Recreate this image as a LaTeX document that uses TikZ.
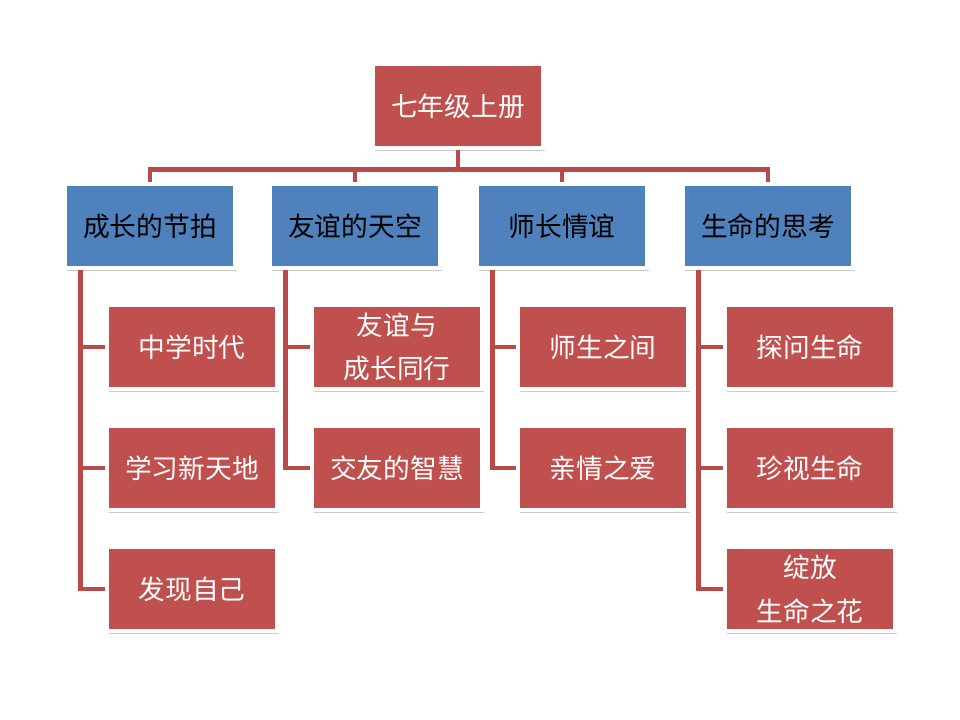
\documentclass[tikz,border=0pt]{standalone}
\usepackage{fontspec}
\newfontfamily\cjk{Noto Sans CJK SC}
\usepackage{xcolor}
\usepackage{tikz}
\usetikzlibrary{shadows}
\definecolor{rougebrique}{RGB}{192, 80, 77}
\definecolor{bleuacier}{RGB}{79, 129, 189}
\definecolor{rougelien}{RGB}{184, 74, 71}

\begin{document}
\begin{tikzpicture}[x=0.025cm, y=-0.025cm, font=\cjk\fontsize{19}{31}\selectfont,
    boite/.style={draw=white, line width=2.5pt, minimum width=4.25cm, minimum height=2.1cm,
      align=center, drop shadow={opacity=0.4, shadow xshift=1.5pt, shadow yshift=-2pt}},
    rouge/.style={boite, fill=rougebrique, text=white},
    bleu/.style={boite, fill=bleuacier, text=black},
    lien/.style={draw=rougelien, line width=3.5pt}]
    \useasboundingbox (0,0) rectangle (960,720);
    % racine
    \node[rouge] (racine) at (458,106) {七年级上册};
    % themes
    \node[bleu] (t1) at (150,226) {成长的节拍};
    \node[bleu] (t2) at (355,226) {友谊的天空};
    \node[bleu] (t3) at (562,226) {师长情谊};
    \node[bleu] (t4) at (768,226) {生命的思考};
    % lecons
    \node[rouge] (c11) at (192,347) {中学时代};
    \node[rouge] (c12) at (192,468) {学习新天地};
    \node[rouge] (c13) at (192,589) {发现自己};
    \node[rouge] (c21) at (397,347) {友谊与\\成长同行};
    \node[rouge] (c22) at (397,468) {交友的智慧};
    \node[rouge] (c31) at (603,347) {师生之间};
    \node[rouge] (c32) at (603,468) {亲情之爱};
    \node[rouge] (c41) at (810,347) {探问生命};
    \node[rouge] (c42) at (810,468) {珍视生命};
    \node[rouge] (c43) at (810,589) {绽放\\生命之花};
    % liens
    \foreach \t in {t1,t2,t3,t4}
      \draw[lien] (racine.south) -- ++(0,20) -| (\t.north);
    \foreach \t/\c in {t1/c11,t1/c12,t1/c13,t2/c21,t2/c22,t3/c31,t3/c32,t4/c41,t4/c42,t4/c43}
      \draw[lien] ([xshift=0.43cm]\t.south west) |- (\c.west);
  \end{tikzpicture}
\end{document}
